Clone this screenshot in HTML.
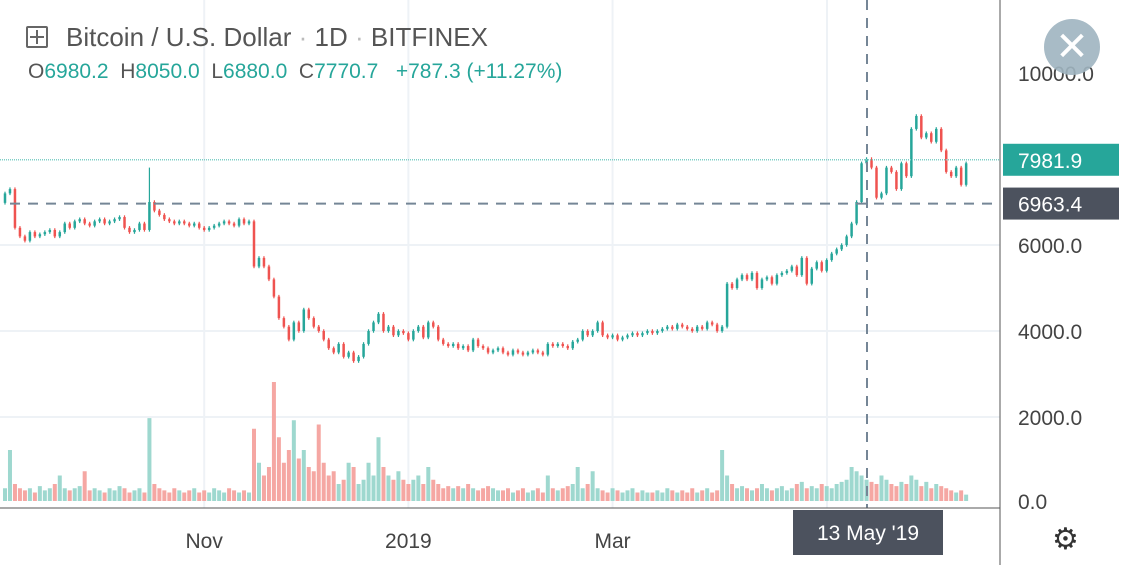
<!DOCTYPE html>
<html><head><meta charset="utf-8"><style>
body{margin:0;background:#fff;width:1136px;height:565px;overflow:hidden;font-family:"Liberation Sans",sans-serif}
svg{position:absolute;left:0;top:0}
</style></head><body>
<svg width="1136" height="565">
<g id="grid"></g>
<g id="vol"></g>
<g id="candles"></g>
<g id="over"></g>
</svg>
<script>
const closes=[7200,7300,6400,6200,6100,6300,6200,6250,6300,6350,
6200,6300,6500,6400,6550,6600,6500,6450,6550,6600,
6500,6550,6600,6650,6400,6300,6350,6500,6350,7000,
6800,6700,6600,6550,6500,6550,6500,6450,6500,6400,
6350,6400,6450,6500,6550,6500,6450,6600,6500,6550,
5500,5700,5500,5200,4800,4300,4100,3800,4200,4000,
4500,4300,4100,4000,3800,3600,3500,3700,3400,3500,
3300,3400,3700,4000,4200,4400,4000,4100,3900,4000,
3950,3800,4000,4100,3850,4200,4100,3800,3700,3650,
3700,3600,3650,3550,3800,3650,3600,3500,3550,3600,
3500,3450,3550,3500,3450,3500,3550,3500,3450,3700,
3650,3700,3650,3600,3750,3800,4000,3900,4000,4200,
3900,3850,3900,3800,3850,3900,3950,3900,3950,4000,
3950,4000,4050,4100,4050,4150,4100,4050,4000,4100,
4050,4200,4150,4000,4100,5100,5000,5200,5300,5200,
5350,5000,5200,5250,5100,5300,5350,5400,5500,5300,
5700,5100,5450,5600,5400,5650,5800,5900,6000,6200,
6500,7000,7900,8000,7800,7100,7200,7800,7700,7300,
7900,7600,8700,9000,8500,8600,8400,8700,8200,7700,
7600,7800,7400,7900];
const volumes=[300,1200,400,300,250,300,200,350,250,300,
400,600,300,250,300,350,700,250,300,250,
200,300,250,350,300,200,250,300,200,1950,
400,300,250,200,300,250,200,250,300,200,
250,200,300,250,200,300,250,200,250,200,
1700,900,600,800,2800,1500,900,1200,1900,1000,
1200,800,700,1800,900,600,700,400,500,900,
800,400,500,900,600,1500,800,600,500,700,
500,400,500,600,400,800,500,400,300,350,
300,350,300,400,300,250,300,350,300,250,
250,300,200,250,300,200,250,300,200,600,
300,250,300,350,400,800,300,400,700,300,
250,200,300,250,200,250,300,200,250,200,
200,250,200,300,250,200,250,200,300,200,
250,300,200,250,1200,600,400,300,350,300,
250,300,400,300,250,300,350,250,300,400,
450,300,350,300,400,350,300,400,450,500,
800,700,600,500,450,400,600,500,400,350,
450,400,600,500,350,450,300,400,350,300,
250,200,250,150];
const priceTicks=[0,2000,4000,6000,10000];
const dateLabels=["Nov","2019","Mar"];
const dateIdx=[40,81,122];
const NS="http://www.w3.org/2000/svg";
function px(i){return 5+i*4.98}
function py(v){return 503-v*0.043}
function vy(v){return 501-v*0.0425}
function mk(tag,attrs,parent,name){const e=document.createElementNS(NS,tag);for(const k in attrs)e.setAttribute(k,attrs[k]);


document.getElementById(parent).appendChild(e);return e}
[4000,6000,2000].forEach(v=>{mk('line',{x1:0,x2:1000,y1:py(v),y2:py(v),stroke:'#eef2f6','stroke-width':2},'grid','h-gridline')});
[827].concat(dateIdx.map(px)).forEach(x=>{mk('line',{x1:x,x2:x,y1:0,y2:508,stroke:'#eef2f6','stroke-width':2},'grid','v-gridline')});
volumes.forEach((v,i)=>{const up=i==0?true:closes[i]>=closes[i-1];
mk('rect',{x:px(i)-2,y:vy(v),width:4,height:501-vy(v),fill:up?'#9ed8cf':'#f5a7a3'},'vol','volume-bar')});
closes.forEach((c,i)=>{const o=i==0?6980:closes[i-1];const up=c>=o;const col=up?'#26a69a':'#ef5350';
const hi=Math.max(o,c)+40,lo=Math.min(o,c)-40;
mk('line',{x1:px(i),x2:px(i),y1:py(i==29?7800:hi),y2:py(lo),stroke:col,'stroke-width':1.2},'candles','candle-wick');
mk('rect',{x:px(i)-1.25,y:py(Math.max(o,c)),width:2.5,height:Math.max(1.5,Math.abs(py(o)-py(c))),fill:col},'candles','candle-body')});
const last=7981.9,cross=6963.4;
mk('line',{x1:0,x2:1000,y1:py(last),y2:py(last),stroke:'#7fcfc7','stroke-width':1.5,'stroke-dasharray':'1 1'},'over','last-price-line');
mk('line',{x1:10,x2:1000,y1:py(cross),y2:py(cross),stroke:'#758696','stroke-width':2,'stroke-dasharray':'10 8'},'over','crosshair-h');
mk('line',{x1:867,x2:867,y1:0,y2:508,stroke:'#758696','stroke-width':2,'stroke-dasharray':'10 8'},'over','crosshair-v');
mk('line',{x1:1000,x2:1000,y1:0,y2:565,stroke:'#555','stroke-width':1},'over','price-axis-line');
mk('line',{x1:0,x2:1000,y1:508,y2:508,stroke:'#555','stroke-width':1},'over','time-axis-line');
priceTicks.forEach(v=>{const t=mk('text',{x:1018,y:(v==0?vy(0):py(v))+8,'font-size':21,fill:'#444'},'over','price-tick');t.textContent=v.toFixed(1)});
dateLabels.forEach((d,k)=>{const t=mk('text',{x:px(dateIdx[k]),y:548,'font-size':21,fill:'#444','text-anchor':'middle'},'over','date-tick');t.textContent=d});
mk('rect',{x:1003,y:py(last)-16,width:116,height:32,fill:'#26a69a'},'over','last-price-label-bg');
let t=mk('text',{x:1018,y:py(last)+8,'font-size':21,fill:'#fff'},'over','last-price-label');t.textContent=last.toFixed(1);
mk('rect',{x:1003,y:py(cross)-16,width:116,height:32,fill:'#4c525e'},'over','crosshair-price-label-bg');
t=mk('text',{x:1018,y:py(cross)+8,'font-size':21,fill:'#fff'},'over','crosshair-price-label');t.textContent=cross.toFixed(1);
mk('rect',{x:793,y:510,width:150,height:45,fill:'#4c525e'},'over','crosshair-date-bg');
t=mk('text',{x:868,y:540,'font-size':21,fill:'#fff','text-anchor':'middle'},'over','crosshair-date');t.textContent="13 May '19";
</script>
<div style="position:absolute;left:26px;top:22px;font-size:26px;color:#555;white-space:nowrap">
<span style="display:inline-block;width:18px;height:18px;border:2px solid #666;border-radius:2px;vertical-align:-2px;position:relative;margin-right:18px"><span style="position:absolute;left:8px;top:2px;width:2px;height:14px;background:#666"></span><span style="position:absolute;left:2px;top:8px;width:14px;height:2px;background:#666"></span></span>Bitcoin / U.S. Dollar <span style="color:#bbb">·</span> 1D <span style="color:#bbb">·</span> BITFINEX</div>
<div style="position:absolute;left:28px;top:60px;font-size:21px;color:#26a69a;white-space:nowrap"><span style="color:#555">O</span>6980.2 &nbsp;<span style="color:#555">H</span>8050.0 &nbsp;<span style="color:#555">L</span>6880.0 &nbsp;<span style="color:#555">C</span>7770.7 &nbsp; +787.3 (+11.27%)</div>
<div style="position:absolute;left:1044px;top:19px;width:56px;height:56px;border-radius:50%;background:#9fb4c0;opacity:.9;color:#fff;font-size:40px;line-height:56px;text-align:center">✕</div>
<div style="position:absolute;left:1052px;top:522px;font-size:30px;color:#333">⚙</div>
</body></html>
